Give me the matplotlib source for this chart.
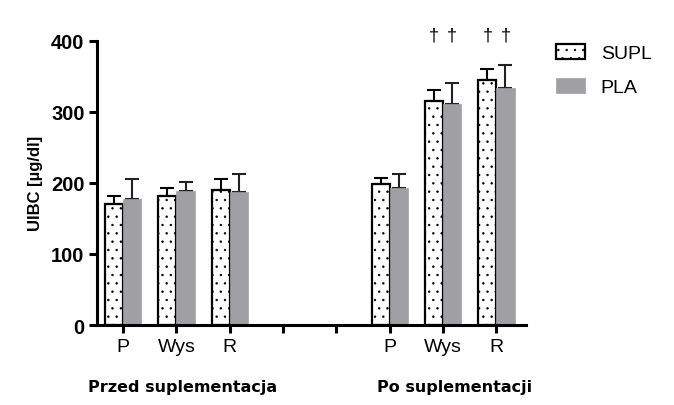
import matplotlib
matplotlib.use("Agg")
import matplotlib.pyplot as plt
import numpy as np

plt.rcParams['font.family'] = ['Liberation Sans', 'DejaVu Sans']
plt.rcParams['hatch.linewidth'] = 0.5

labels = ["P", "Wys", "R", "", "", "P", "Wys", "R"]
pos = [0, 1, 2, 5, 6, 7]
supl = [171, 181, 190, 198, 316, 345]
supl_err = [10, 12, 15, 9, 15, 15]
pla = [178, 189, 187, 193, 311, 333]
pla_err = [28, 12, 26, 20, 30, 33]
dagger_x = [6, 7]
dagger_y = 408

fig = plt.figure(figsize=(6.74, 4.06), dpi=100)
ax = fig.add_axes([0.144, 0.197, 0.636, 0.700])

w = 0.34
x = np.array(pos)
ax.bar(x - w/2, supl, w, color='white', edgecolor='black', linewidth=1.6,
       hatch='..', label='SUPL', zorder=2)
ax.errorbar(x - w/2, supl, yerr=[np.zeros(len(supl)), supl_err], fmt='none',
            ecolor='black', elinewidth=1.5, capsize=5, capthick=1.5, zorder=3)
ax.bar(x + w/2, pla, w, color='#a0a0a4', edgecolor='#a0a0a4', linewidth=0.5,
       label='PLA', zorder=2)
ax.errorbar(x + w/2, pla, yerr=[np.zeros(len(pla)), pla_err], fmt='none',
            ecolor='#222222', elinewidth=1.5, capsize=5, capthick=1.5, zorder=1)

for xd in dagger_x:
    for off in (-w/2, w/2):
        ax.text(xd + off, dagger_y, '\u2020', ha='center', va='center',
                fontsize=13, clip_on=False)

ax.set_xlim(-0.49, 7.55)
ax.set_ylim(0, 400)
ax.set_yticks([0, 100, 200, 300, 400])
ax.set_xticks(range(8))
ax.set_xticklabels(labels, fontsize=14)
for t in ax.get_yticklabels():
    t.set_fontweight('bold')
    t.set_fontsize(14.5)
ax.set_ylabel('UIBC [\u00b5g/dl]', fontweight='bold', fontsize=12, labelpad=6)

for s in ['top', 'right']:
    ax.spines[s].set_visible(False)
for s in ['left', 'bottom']:
    ax.spines[s].set_linewidth(2.2)
ax.tick_params(width=2.2, length=6, direction='out', pad=3)

fig.text(183/674, 1 - 388/406, 'Przed suplementacja', ha='center', va='center',
         fontweight='bold', fontsize=11.5, family='DejaVu Sans')
fig.text(455/674, 1 - 388/406, 'Po suplementacji', ha='center', va='center',
         fontweight='bold', fontsize=11.5, family='DejaVu Sans')

ax.legend(loc='upper left', bbox_to_anchor=(1.03, 1.05), frameon=False,
          fontsize=14, handlelength=1.5, handleheight=0.8, labelspacing=0.8,
          handletextpad=0.8)

fig.savefig('out.png', dpi=100)
